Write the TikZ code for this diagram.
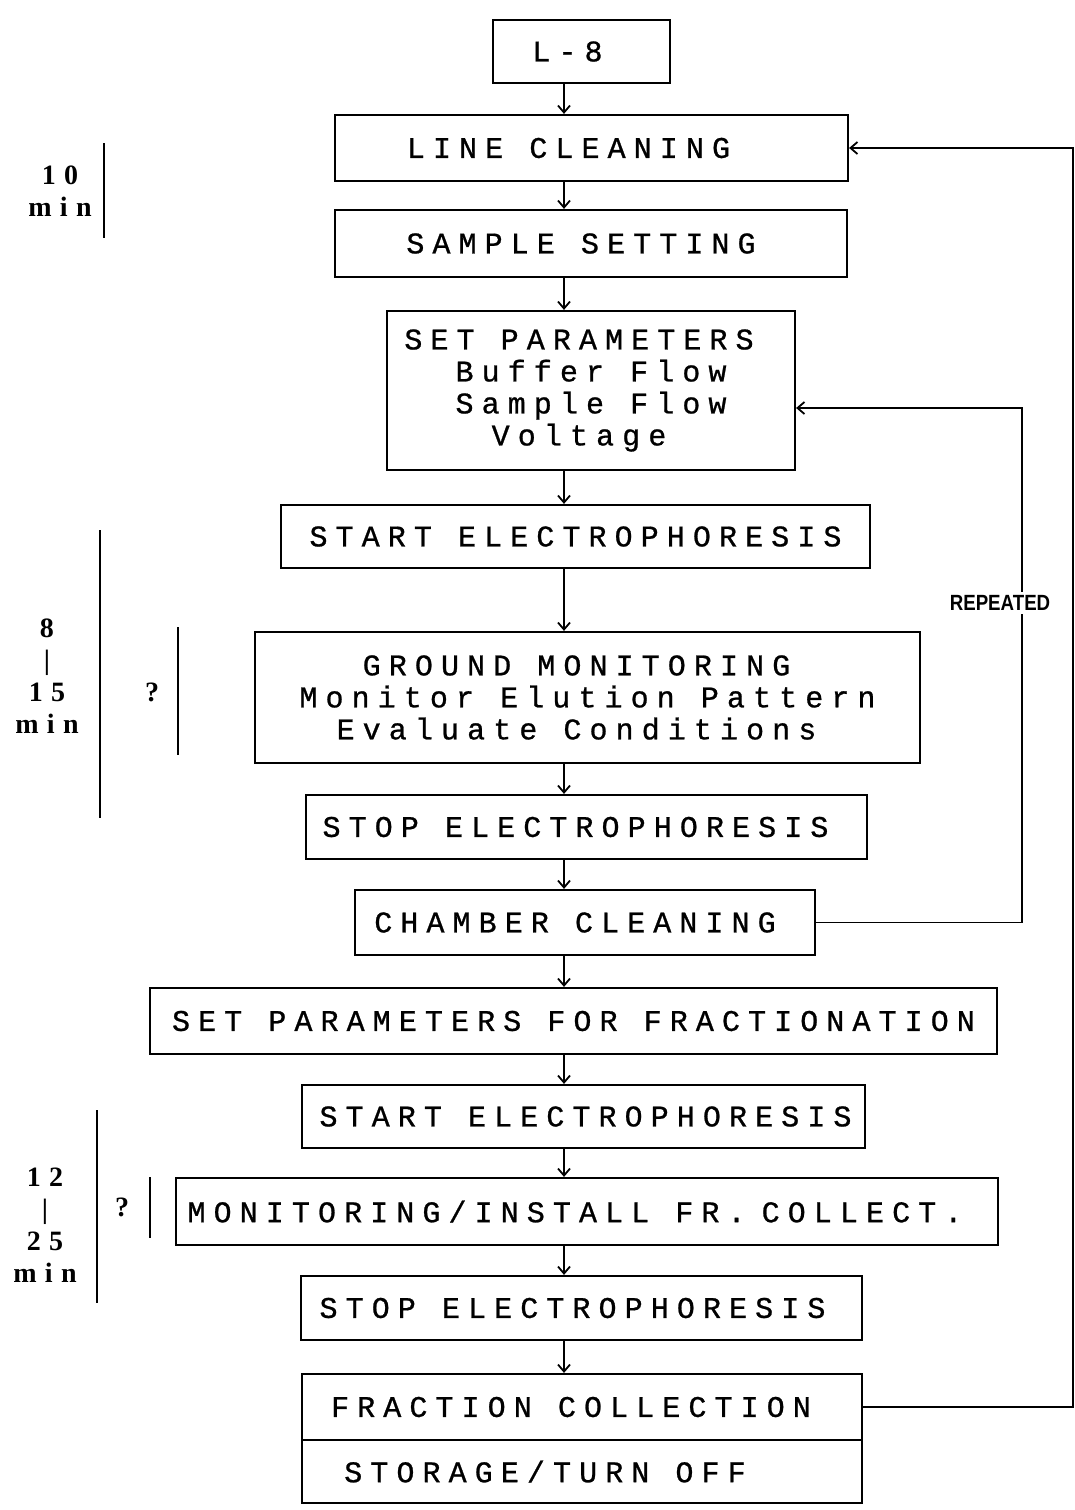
\documentclass[tikz,border=0pt]{standalone}
\usepackage{fontspec}
\setmainfont{Liberation Mono}[LetterSpace=27, FakeBold=0.8]
\newfontfamily\lblfont{Liberation Serif}[LetterSpace=30]
\newfontfamily\repfont{Liberation Sans}
\usetikzlibrary{arrows.meta}
\newcommand{\sh}[1]{\hspace*{#1pt}}
\begin{document}
\begin{tikzpicture}[x=1pt,y=-1pt,
  box/.style={draw, line width=2.2pt, inner sep=0pt, align=center,
    font=\fontsize{30}{32}\selectfont},
  arr/.style={line width=1.8pt, -{Straight Barb[length=7pt,width=12pt]}},
  bar/.style={line width=2.2pt},
  lbl/.style={align=center, font=\lblfont\bfseries\fontsize{28}{32}\selectfont, inner sep=0pt},
]
\useasboundingbox (0,0) rectangle (1075,1510);
\node[box, minimum width=177pt, minimum height=63pt] (L8) at (581.5,51.5) {L-8\sh{28}};
\node[box, minimum width=513pt, minimum height=66pt] (lc) at (591.5,148) {LINE CLEANING\sh{46}};
\node[box, minimum width=512pt, minimum height=67pt] (ss) at (591,243.5) {SAMPLE SETTING\sh{20}};
\node[box, minimum width=408pt, minimum height=159pt] (sp) at (591,390.5) {SET PARAMETERS\sh{24}\\Buffer Flow\sh{24}\\Sample Flow\sh{24}\\Voltage\sh{24}};
\node[box, minimum width=589pt, minimum height=63pt] (se1) at (575.5,536.5) {START ELECTROPHORESIS};
\node[box, minimum width=665pt, minimum height=131pt] (gm) at (587.5,697.5) {GROUND MONITORING\sh{22}\\Monitor Elution Pattern\sh{22}\\Evaluate Conditions\sh{22}};
\node[box, minimum width=561pt, minimum height=64pt] (st1) at (586.5,827) {STOP ELECTROPHORESIS\sh{22}};
\node[box, minimum width=460pt, minimum height=65pt] (cc) at (585,922.5) {CHAMBER CLEANING\sh{20}};
\node[box, minimum width=847pt, minimum height=66pt] (spf) at (573.5,1021) {SET PARAMETERS FOR FRACTIONATION};
\node[box, minimum width=563pt, minimum height=63pt] (se2) at (583.5,1116.5) {\sh{4}START ELECTROPHORESIS};
\node[box, minimum width=822pt, minimum height=67pt] (mon) at (587,1211.5) {MONITORING/INSTALL FR.\kern-10pt\ COLLECT.\sh{24}};
\node[box, minimum width=561pt, minimum height=64pt] (st2) at (581.5,1308) {STOP ELECTROPHORESIS\sh{18}};
\node[box, minimum width=560pt, minimum height=66pt] (fc) at (582,1407) {FRACTION COLLECTION\sh{22}};
\node[box, minimum width=560pt, minimum height=63pt] (so) at (582,1471.5) {STORAGE/TURN OFF\sh{74}};

\coordinate (ax) at (564,0);
\foreach \a/\b in {L8/lc, lc/ss, ss/sp, sp/se1, se1/gm, gm/st1, st1/cc, cc/spf, spf/se2, se2/mon, mon/st2, st2/fc}
  \draw[arr] (\a.south -| ax) -- (\b.north -| ax);

\coordinate (rx) at (1073,0);
\draw[arr] (fc.east) -- (fc.east -| rx) -- (lc.east -| rx) -- (lc.east);
\coordinate (rt) at (1022,408);
\draw[arr] (cc.east) -- (cc.east -| rt) -- (rt) -- (rt -| sp.east);
\node[fill=white, inner sep=3pt, font=\repfont\bfseries\fontsize{22}{24}\selectfont, xscale=0.85] (rep) at (1000,603) {REPEATED};

\node[lbl] (t1) at (60,191) {10\\min};
\draw[bar] (104,143) -- (104,238);
\node[lbl] (t2) at (47,676) {8\\|\\15\\min};
\draw[bar] (100,530) -- (100,818);
\node[lbl] (q1) at (152,692) {?};
\draw[bar] (178,627) -- (178,755);
\node[lbl] (t3) at (45,1225) {12\\|\\25\\min};
\draw[bar] (97,1110) -- (97,1303);
\node[lbl] (q2) at (122,1207) {?};
\draw[bar] (150,1177) -- (150,1238);
\end{tikzpicture}
\end{document}
